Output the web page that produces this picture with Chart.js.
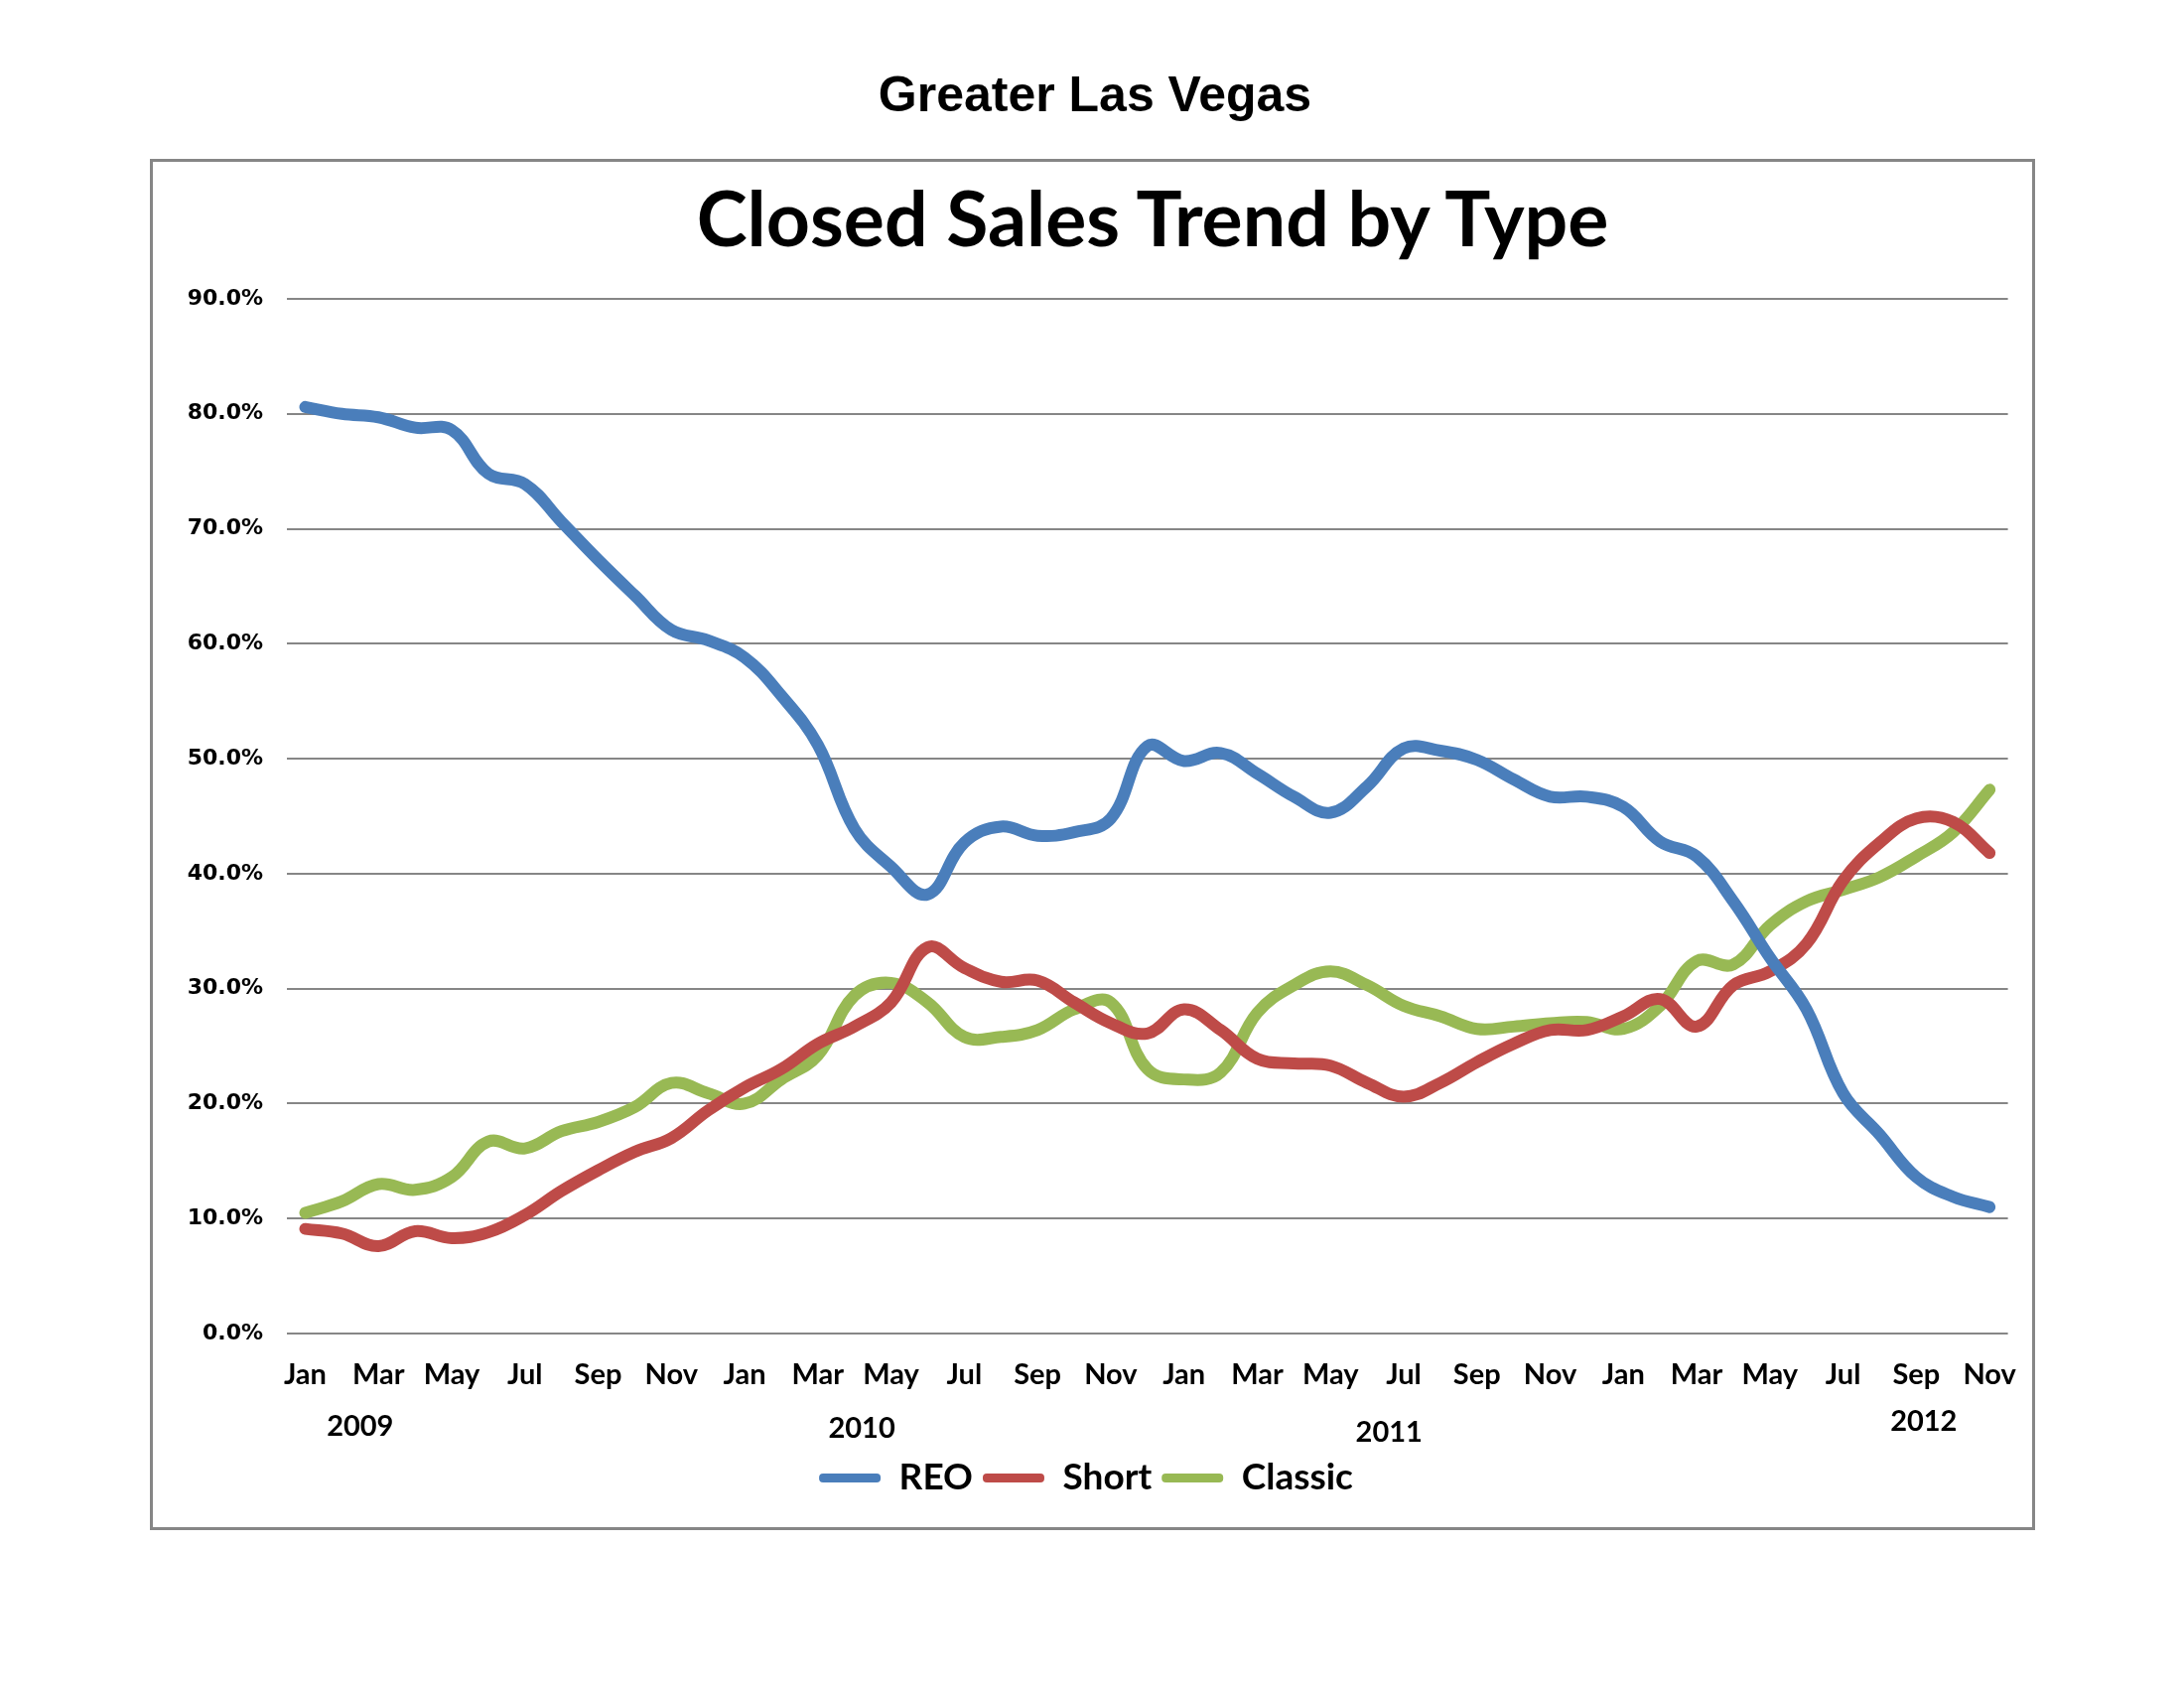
<!DOCTYPE html>
<html>
<head>
<meta charset="utf-8">
<title>Greater Las Vegas - Closed Sales Trend by Type</title>
<script src="https://cdn.jsdelivr.net/npm/chart.js"></script>
<style>
    body { margin: 0; background: #ffffff; width: 2200px; height: 1700px; position: relative; }
    #region-title {
        position: absolute; left: 0; width: 2206px; top: 70px;
        text-align: center; font: bold 50px "Liberation Sans", Arial, sans-serif;
        line-height: 50px; color: #000;
    }
    #chart-title {
        position: absolute; left: 0; width: 2322px; top: 180px;
        text-align: center; font: bold 77px Lato, "Liberation Sans", sans-serif;
        line-height: 77px; color: #000; z-index: 2;
    }
    #chart-box {
        position: absolute; left: 151px; top: 160px; width: 1899px; height: 1381px;
        border: 3px solid #868686; box-sizing: border-box; background: #fff;
    }
</style>
</head>
<body>
<div id="region-title">Greater Las Vegas</div>
<div id="chart-box"><canvas id="sales-chart" width="1893" height="1375"></canvas></div>
<div id="chart-title">Closed Sales Trend by Type</div>

<script>
// Months Jan 2009 - Nov 2012
const months = [
    'Jan', 'Feb', 'Mar', 'Apr', 'May', 'Jun', 'Jul', 'Aug', 'Sep', 'Oct', 'Nov', 'Dec',
    'Jan', 'Feb', 'Mar', 'Apr', 'May', 'Jun', 'Jul', 'Aug', 'Sep', 'Oct', 'Nov', 'Dec',
    'Jan', 'Feb', 'Mar', 'Apr', 'May', 'Jun', 'Jul', 'Aug', 'Sep', 'Oct', 'Nov', 'Dec',
    'Jan', 'Feb', 'Mar', 'Apr', 'May', 'Jun', 'Jul', 'Aug', 'Sep', 'Oct', 'Nov'
];

// Share of closed sales (%)
const reo = [
    80.6, 80.0, 79.7, 78.8, 78.6, 74.8, 73.9, 70.6, 67.3, 64.2, 61.2, 60.3,
    58.8, 55.5, 51.2, 43.9, 40.6, 38.2, 42.7, 44.1, 43.3, 43.6, 44.8, 51.1,
    49.8, 50.5, 48.7, 46.7, 45.3, 47.6, 50.9, 50.7, 49.9, 48.2, 46.7, 46.7,
    45.8, 42.8, 41.5, 37.6, 32.7, 28.2, 20.9, 17.3, 13.6, 11.9, 11.0
];
const shortSale = [
    9.1, 8.7, 7.6, 8.9, 8.3, 8.8, 10.3, 12.4, 14.2, 15.8, 17.0, 19.4,
    21.4, 23.0, 25.2, 26.7, 28.8, 33.6, 31.8, 30.6, 30.7, 28.8, 27.0, 26.1,
    28.2, 26.4, 23.9, 23.5, 23.3, 21.8, 20.6, 21.8, 23.6, 25.2, 26.4, 26.4,
    27.6, 29.1, 26.7, 30.3, 31.5, 33.9, 39.4, 42.7, 44.8, 44.5, 41.8
];
const classic = [
    10.5, 11.5, 13.0, 12.5, 13.6, 16.7, 16.1, 17.6, 18.4, 19.7, 21.8, 20.9,
    20.0, 22.1, 24.2, 29.4, 30.5, 28.8, 25.8, 25.8, 26.4, 28.2, 28.8, 23.0,
    22.1, 22.7, 27.9, 30.3, 31.5, 30.3, 28.5, 27.6, 26.5, 26.7, 27.0, 27.1,
    26.5, 28.5, 32.4, 32.1, 35.5, 37.6, 38.6, 39.7, 41.5, 43.6, 47.3
];

// Year captions under the month labels (placed at a month index)
const years = ['2009', '2010', '2011', '2012'];
const yearAt = [1.5, 15.2, 29.6, 44.2];
const yearShift = [0, 2, 6, -5];

const labelFont = 'Lato, "Liberation Sans", sans-serif';

// Draw the year captions below the x axis
const yearPlugin = {
    id: 'yearLabels',
    afterDraw(chart) {
        const ctx = chart.ctx;
        const xs = chart.scales.x;
        ctx.save();
        ctx.font = 'bold 29px ' + labelFont;
        ctx.fillStyle = '#000';
        ctx.textAlign = 'center';
        ctx.textBaseline = 'middle';
        years.forEach((y, i) => {
            ctx.fillText(y, xs.getPixelForValue(yearAt[i]), xs.top + 94 + yearShift[i]);
        });
        ctx.restore();
    }
};

function makeSeries(label, data, color) {
    return {
        label: label,
        data: data,
        borderColor: color,
        backgroundColor: color,
        borderWidth: 12,
        pointRadius: 0,
        tension: 0.4,
        borderCapStyle: 'round',
        borderJoinStyle: 'round',
        fill: false
    };
}

const ctx = document.getElementById('sales-chart').getContext('2d');
new Chart(ctx, {
    type: 'line',
    data: {
        labels: months,
        datasets: [
            makeSeries('REO', reo, '#4a7ebb'),
            makeSeries('Short', shortSale, '#be4b48'),
            makeSeries('Classic', classic, '#98b954')
        ]
    },
    options: {
        responsive: false,
        animation: false,
        devicePixelRatio: 1,
        layout: { padding: { left: 0, right: 13, top: 138, bottom: 21 } },
        plugins: {
            tooltip: { enabled: false },
            title: { display: false },
            legend: {
                position: 'bottom',
                labels: {
                    color: '#000',
                    font: { family: labelFont, size: 37, weight: 'bold' },
                    boxWidth: 62,
                    boxHeight: 9,
                    useBorderRadius: true,
                    borderRadius: 4,
                    padding: 10,
                    generateLabels(chart) {
                        const items = Chart.defaults.plugins.legend.labels.generateLabels(chart);
                        items.forEach(item => { item.lineWidth = 0; });
                        return items;
                    }
                }
            }
        },
        scales: {
            x: {
                offset: true,
                grid: { display: false },
                border: { display: false },
                ticks: {
                    autoSkip: false,
                    maxRotation: 0,
                    padding: 16,
                    color: '#000',
                    font: { family: labelFont, size: 29, weight: 'bold' },
                    callback: function(value, index) {
                        return index % 2 === 0 ? months[index] : '';
                    }
                },
                afterFit(scale) { scale.height = 117; }
            },
            y: {
                min: 0,
                max: 90,
                grid: { color: '#868686', lineWidth: 2, drawTicks: false },
                border: { display: false },
                ticks: {
                    stepSize: 10,
                    padding: 24,
                    color: '#000',
                    font: { family: '"DejaVu Sans", Verdana, sans-serif', size: 22, weight: 'bold' },
                    callback: value => value.toFixed(1) + '%'
                },
                afterFit(scale) { scale.width = 135; }
            }
        }
    },
    plugins: [yearPlugin]
});
</script>
</body>
</html>
